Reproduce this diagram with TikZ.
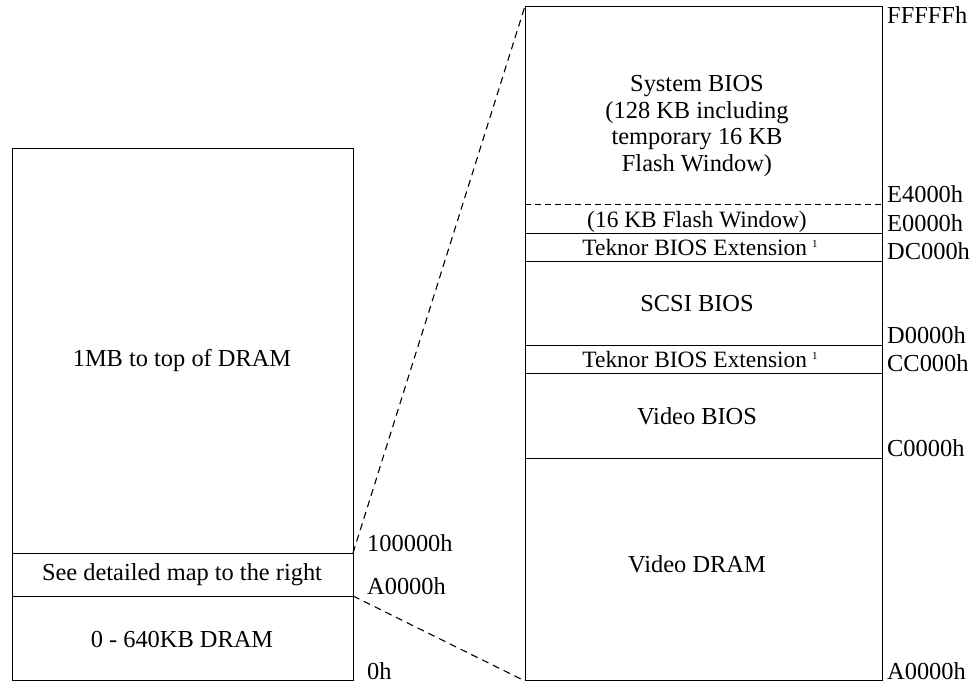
\documentclass[tikz,border=0pt]{standalone}
\usepackage{fontspec}
\setmainfont{Liberation Serif}
\usetikzlibrary{positioning, calc}
\newcommand{\fnmark}{\hspace{5bp}{\fontsize{11}{11}\selectfont\raisebox{8bp}{1}}}

\begin{document}
\begin{tikzpicture}[x=1bp, y=-1bp,
  block/.style={font=\fontsize{24.5}{27}\selectfont, align=center, inner sep=0pt},
  row/.style={block, anchor=base},
  addr/.style={font=\fontsize{24.5}{27}\selectfont, anchor=base west, inner sep=0pt},
  frame/.style={draw, line width=1bp},
  divider/.style={line width=0.9bp},
  zoomline/.style={line width=1.1bp, dash pattern=on 7bp off 5bp},
]
  \useasboundingbox (0,0) rectangle (973,687);

  % left column: whole memory
  \draw[frame] (12,149) rectangle (353,680);
  \draw[divider] (12,553) -- (353,553);
  \draw[divider] (12,596) -- (353,596);
  \coordinate (ltop) at (353,553);
  \coordinate (lbot) at (353,596);
  \node[row] (topdram) at (182,366) {1MB to top of DRAM};
  \node[row] (seemap) at (182,580) {See detailed map to the right};
  \node[row] (lowdram) at (182,647) {0 - 640KB DRAM};
  \node[addr] (a100000) at (367,551) {100000h};
  \node[addr] (aA0000l) at (367,594) {A0000h};
  \node[addr] (a0) at (367,679) {0h};

  % right column: A0000h - FFFFFh in detail
  \node[frame, minimum width=357bp, minimum height=674bp, anchor=north west, inner sep=0pt] (rcol) at (525,6) {};
  \draw[divider, dash pattern=on 6bp off 4bp] (525,204) -- (882,204);
  \foreach \y in {233,261,345,373,458}
    \draw[divider] (525,\y) -- (882,\y);
  \node[block] (sysbios) at (697,126)
    {System BIOS\\(128 KB including\\temporary 16 KB\\Flash Window)};
  \node[row, font=\fontsize{23.5}{27}\selectfont] (flashwin) at (697,227) {(16 KB Flash Window)};
  \node[row, font=\fontsize{23.5}{27}\selectfont] (teknorhi) at (700,255) {Teknor BIOS Extension\fnmark};
  \node[row] (scsibios) at (697,311) {SCSI BIOS};
  \node[row, font=\fontsize{23.5}{27}\selectfont] (teknorlo) at (700,367) {Teknor BIOS Extension\fnmark};
  \node[row] (vidbios) at (697,424) {Video BIOS};
  \node[row] (viddram) at (697,572) {Video DRAM};

  \node[addr] (aFFFFF) at (887,24) {FFFFFh};
  \node[addr] (aE4000) at (887,202) {E4000h};
  \node[addr] (aE0000) at (887,231) {E0000h};
  \node[addr] (aDC000) at (887,259) {DC000h};
  \node[addr] (aD0000) at (887,343) {D0000h};
  \node[addr] (aCC000) at (887,371) {CC000h};
  \node[addr] (aC0000) at (887,456) {C0000h};
  \node[addr] (aA0000r) at (887,679) {A0000h};

  % zoom lines
  \draw[zoomline] (ltop) -- (rcol.north west);
  \draw[zoomline] (lbot) -- (rcol.south west);
\end{tikzpicture}
\end{document}
